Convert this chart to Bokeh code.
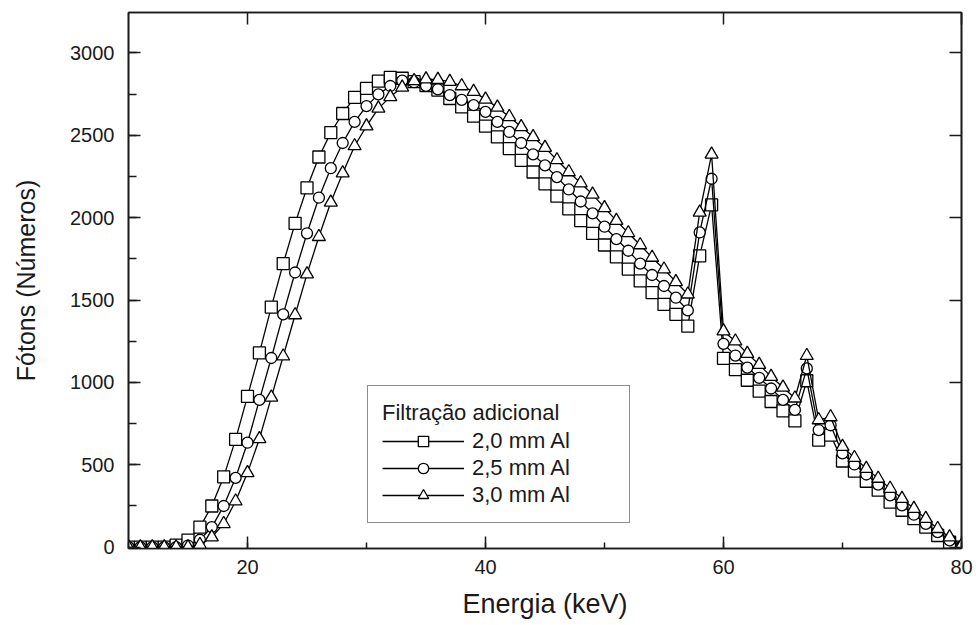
from bokeh.plotting import figure
from bokeh.models import (LinearAxis, SingleIntervalTicker, Legend, LegendItem, Range1d)
from bokeh.embed import file_html
from bokeh.resources import INLINE

# ---- data ----
energy = list(range(10, 81))

al_2_0 = [0, 0, 0, 0, 12, 43, 122, 250, 427, 654,
          915, 1179, 1457, 1721, 1965, 2181, 2368, 2516, 2632, 2730,
          2784, 2829, 2851, 2846, 2825, 2802, 2774, 2723, 2672, 2616,
          2555, 2490, 2419, 2348, 2277, 2205, 2130, 2053, 1982, 1904,
          1834, 1762, 1687, 1616, 1545, 1474, 1413, 1341, 1768, 2077,
          1146, 1077, 1013, 947, 884, 827, 766, 1010, 650, 680,
          523, 462, 400, 346, 274, 224, 173, 122, 71, 30,
          0]

al_2_5 = [0, 0, 0, 0, 0, 10, 45, 122, 250, 421,
          634, 894, 1148, 1413, 1667, 1905, 2121, 2300, 2453, 2581,
          2677, 2748, 2799, 2831, 2822, 2800, 2779, 2744, 2715, 2683,
          2642, 2581, 2520, 2453, 2384, 2317, 2246, 2171, 2098, 2026,
          1945, 1870, 1799, 1721, 1652, 1585, 1514, 1437, 1910, 2236,
          1234, 1163, 1090, 1028, 963, 894, 833, 1085, 711, 740,
          569, 502, 441, 380, 315, 254, 197, 142, 91, 41,
          5]

al_3_0 = [0, 0, 0, 0, 0, 0, 15, 61, 142, 279,
          451, 657, 909, 1159, 1409, 1657, 1884, 2093, 2270, 2435,
          2555, 2663, 2733, 2791, 2830, 2841, 2838, 2825, 2799, 2765,
          2718, 2669, 2612, 2551, 2490, 2425, 2350, 2277, 2210, 2141,
          2059, 1982, 1907, 1834, 1758, 1687, 1610, 1535, 2032, 2384,
          1311, 1250, 1175, 1108, 1035, 970, 904, 1162, 772, 790,
          610, 543, 477, 417, 356, 295, 234, 173, 112, 61,
          10]

series_labels = ["2,0 mm Al", "2,5 mm Al", "3,0 mm Al"]
series_markers = ["square", "circle", "triangle"]
legend_title = "Filtração adicional"
x_label = "Energia (keV)"
y_label = "Fótons (Números)"

FONT = "Liberation Sans"
INK = "#1a1a1a"

p = figure(width=975, height=625, output_backend="svg", toolbar_location=None,
           x_range=Range1d(10, 80), y_range=Range1d(-8, 3245))
p.min_border_left = 128
p.min_border_right = 14
p.min_border_top = 12
p.min_border_bottom = 77
p.xgrid.visible = False
p.ygrid.visible = False
p.outline_line_color = INK
p.outline_line_width = 1.6
p.background_fill_color = "white"
p.border_fill_color = "white"


def style_axis(ax, ticker, show_labels, minor_len):
    ax.ticker = ticker
    ax.axis_line_color = INK
    ax.axis_line_width = 1.6
    ax.major_tick_in = 12
    ax.major_tick_out = 0
    ax.minor_tick_in = minor_len
    ax.minor_tick_out = 0
    ax.major_tick_line_color = INK
    ax.minor_tick_line_color = INK if minor_len else None
    ax.major_tick_line_width = 1.5
    ax.minor_tick_line_width = 1.5
    ax.major_label_text_font = FONT
    ax.axis_label_text_font = FONT
    ax.axis_label_text_font_style = "normal"
    ax.axis_label_text_color = INK
    if show_labels:
        ax.major_label_text_color = INK
        ax.major_label_text_font_size = "20px"
    else:
        ax.major_label_text_color = None
        ax.major_label_text_font_size = "1px"
        ax.major_label_standoff = 0


style_axis(p.xaxis[0], SingleIntervalTicker(interval=20, num_minor_ticks=2), True, 6)
style_axis(p.yaxis[0], SingleIntervalTicker(interval=500, num_minor_ticks=2), True, 8)
p.xaxis[0].axis_label = x_label
p.yaxis[0].axis_label = y_label
p.xaxis[0].axis_label_text_font_size = "27px"
p.yaxis[0].axis_label_text_font_size = "25px"
p.xaxis[0].major_label_standoff = 11
p.xaxis[0].axis_label_standoff = 12
p.yaxis[0].major_label_standoff = 14
p.yaxis[0].axis_label_standoff = 27

top_ax = LinearAxis()
right_ax = LinearAxis()
style_axis(top_ax, SingleIntervalTicker(interval=20, num_minor_ticks=0), False, 0)
style_axis(right_ax, SingleIntervalTicker(interval=500, num_minor_ticks=0), False, 0)
p.add_layout(top_ax, "above")
p.add_layout(right_ax, "right")

items = []
for yvals, lab, mk in zip([al_2_0, al_2_5, al_3_0], series_labels, series_markers):
    ln = p.line(energy, yvals, line_color="black", line_width=1.3)
    size = 12 if mk == "square" else (11 if mk == "circle" else 13)
    sc = p.scatter(energy, yvals, marker=mk, size=size, fill_color="white",
                   line_color="black", line_width=1.3)
    items.append(LegendItem(label=lab, renderers=[ln, sc]))

legend = Legend(items=items, title=legend_title, location=(239, 25))
legend.title_text_font = FONT
legend.title_text_font_size = "22px"
legend.title_text_font_style = "normal"
legend.title_text_color = INK
legend.title_standoff = 2
legend.label_text_font = FONT
legend.label_text_font_size = "22px"
legend.label_text_color = INK
legend.glyph_width = 82
legend.glyph_height = 26
legend.label_height = 26
legend.label_width = 143
legend.label_standoff = 8
legend.spacing = 1
legend.padding = 14
legend.margin = 0
legend.border_line_color = INK
legend.border_line_width = 1.5
legend.background_fill_color = "white"
legend.background_fill_alpha = 1.0
p.add_layout(legend)

open("out.html", "w").write(file_html(p, INLINE))
